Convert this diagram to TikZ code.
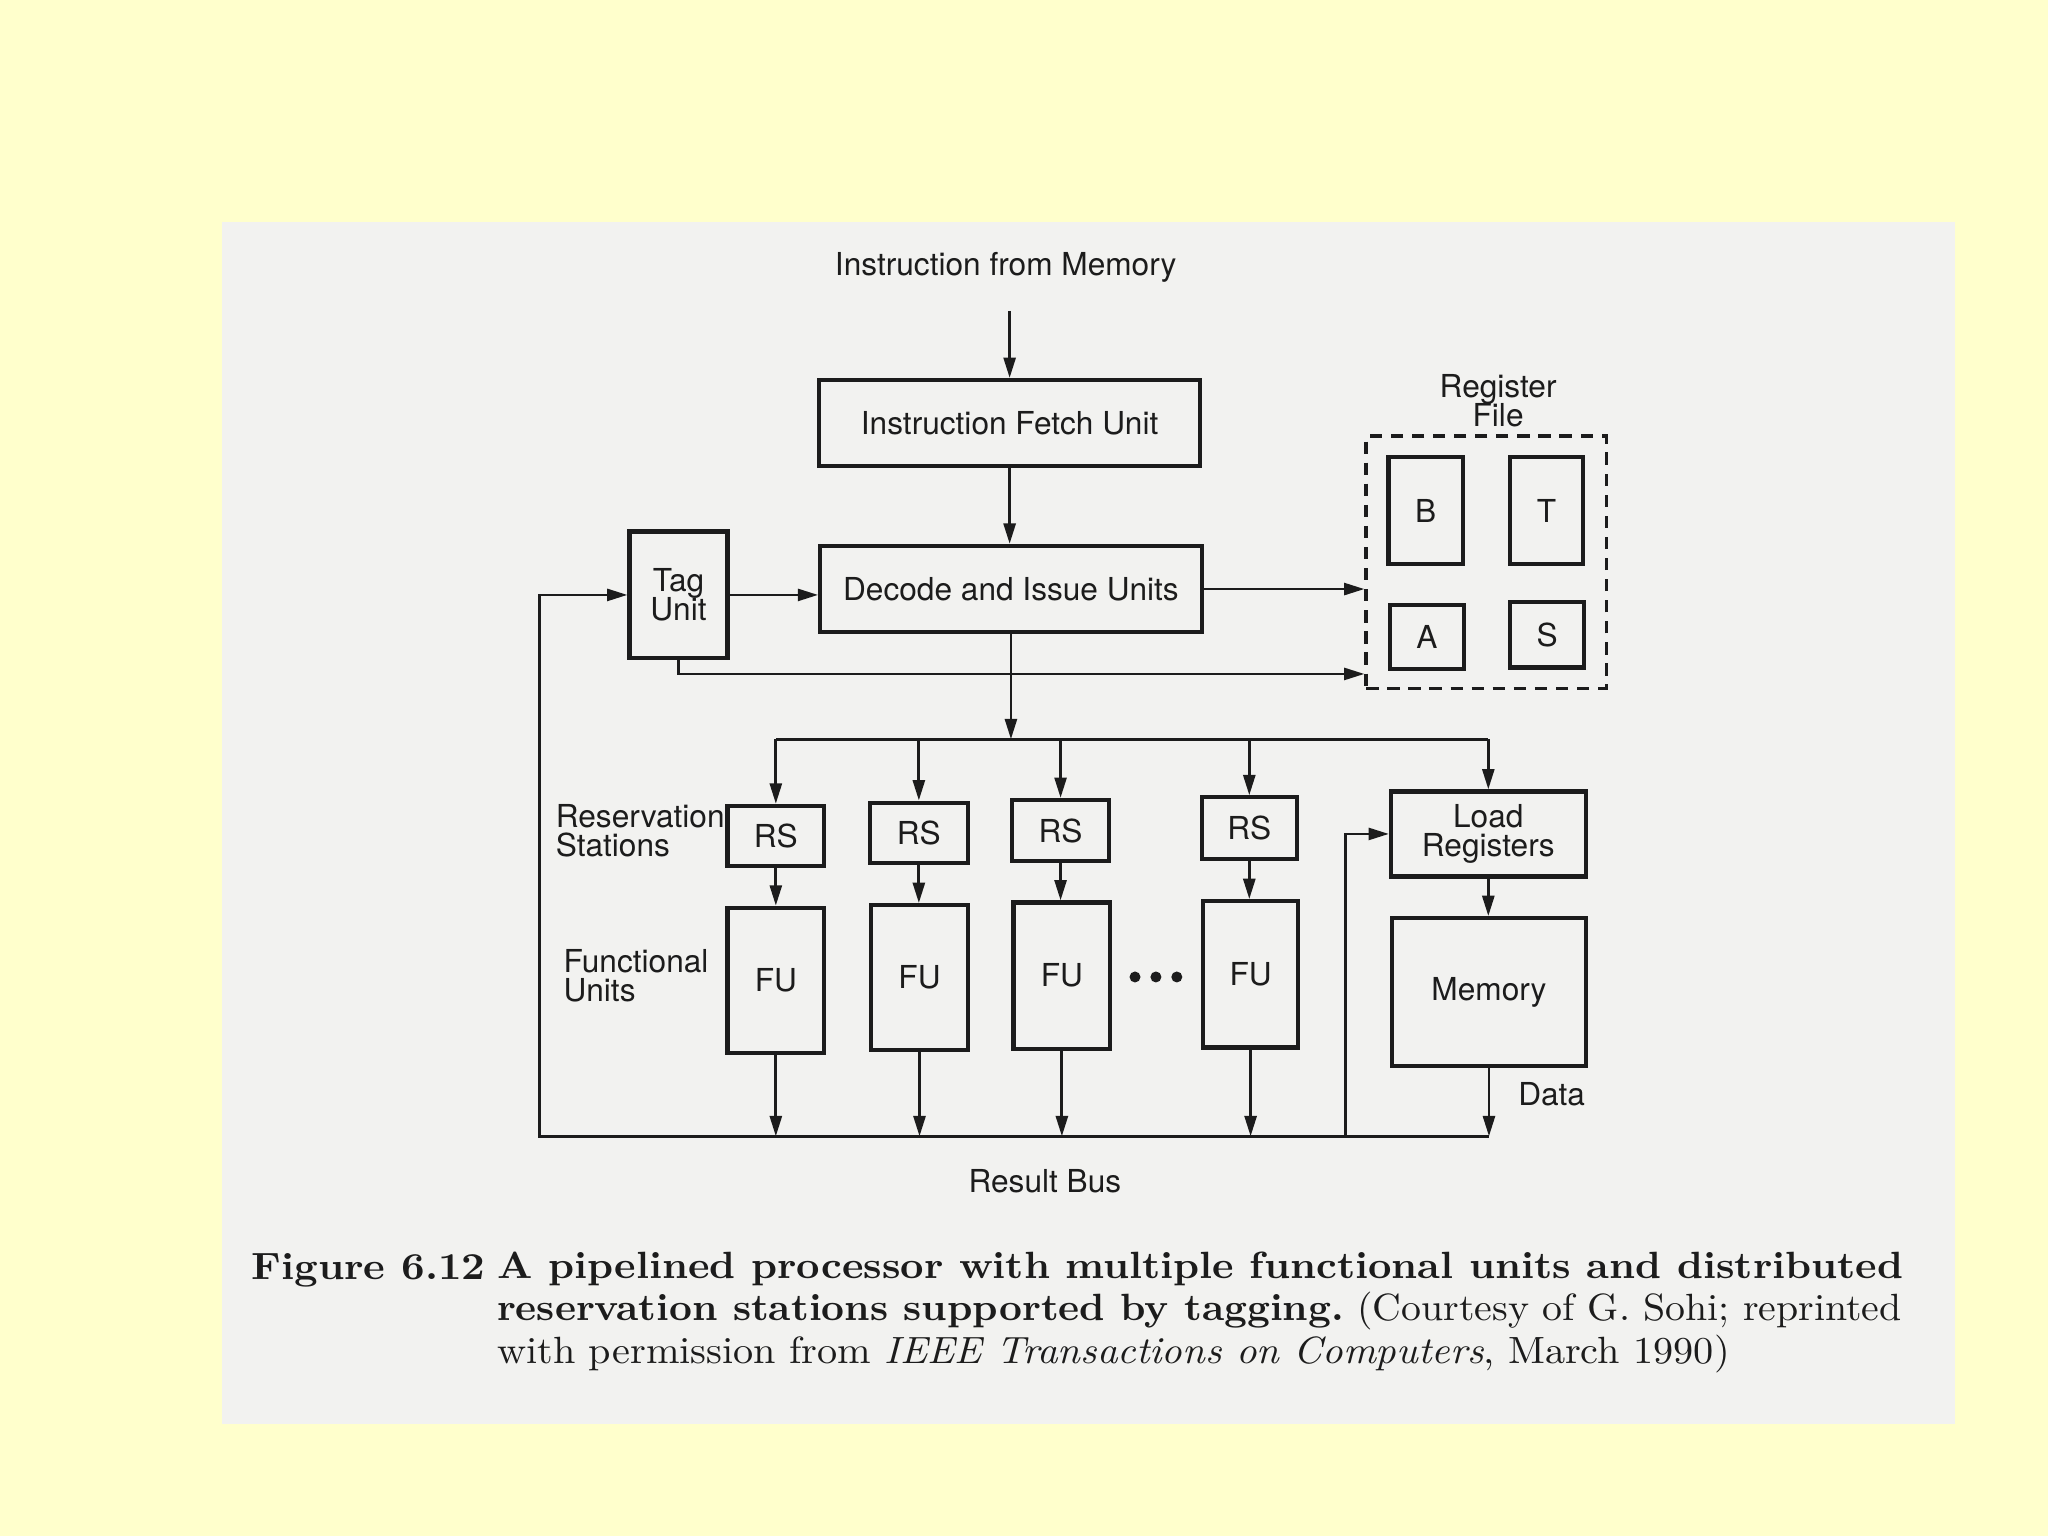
\documentclass[tikz,border=0pt]{standalone}
\usepackage{fontspec}
\newfontfamily\hv{TeX Gyre Heros}
\usetikzlibrary{arrows.meta}
\definecolor{bgyellow}{RGB}{255,255,204}
\definecolor{paper}{RGB}{242,242,240}
\definecolor{ink}{RGB}{28,28,28}
\begin{document}
\setlength{\lineskiplimit}{-10pt}
\begin{tikzpicture}[x=0.013061cm,y=-0.013061cm,
  every node/.style={font=\hv\fontsize{9}{8.2}\selectfont, text=ink},
  bx/.style 2 args={draw=ink, line width=1.2pt, minimum width=#1*0.013061cm, minimum height=#2*0.013061cm, inner sep=0pt},
  arr/.style={draw=ink, line width=0.8pt, -{Triangle[length=5.8pt,width=3.4pt]}},
  ln/.style={draw=ink, line width=0.8pt},
  lbl/.style={align=center, inner sep=0pt},
  lbll/.style={align=left, inner sep=0pt, anchor=west},
  captxt/.style={font=\fontsize{10.8}{11.7}\selectfont, anchor=base west, inner sep=0pt, transform shape, xscale=#1, text=ink}
]
\useasboundingbox (0,0) rectangle (1568,1176);
\fill[bgyellow] (0,0) rectangle (1568,1176);
\fill[paper] (170,170) rectangle (1497,1090);

% helper coordinates
\coordinate (imemb) at (773,238);
\coordinate (yTR) at (0,516);
\coordinate (dbus) at (0,566);
\coordinate (rbus) at (0,870);
\coordinate (fbx) at (413,0);
\coordinate (lrx) at (1030,0);

% nodes
\node[lbl] (imem) at (770,205) {Instruction from Memory};
\node[bx={292}{66}] (ifu) at (773,324) {Instruction Fetch Unit};
\node[bx={292}{66}] (diu) at (774,451) {Decode and Issue Units};
\node[bx={75}{97}, align=center] (tag) at (519.5,455.5) {Tag\\Unit};
\node[bx={184}{193}, line width=1pt, dash pattern=on 3.5pt off 2.5pt] (rf) at (1138,430.5) {};
\node[lbl] (rflbl) at (1147,307) {Register\\File};
\node[bx={57}{82}] (rb) at (1091.5,391) {B};
\node[bx={56}{82}] (rt) at (1184,391) {T};
\node[bx={57}{49}] (ra) at (1092.5,487.5) {A};
\node[bx={57}{50}] (rs) at (1184.5,486) {S};

\node[bx={74}{46}] (rs1) at (594,640) {RS};
\node[bx={75}{46}] (rs2) at (703.5,637.5) {RS};
\node[bx={74}{47}] (rs3) at (812,636) {RS};
\node[bx={73}{47}] (rs4) at (956.5,634) {RS};
\node[bx={74}{111}] (fu1) at (594,750.5) {FU};
\node[bx={74}{111}] (fu2) at (704,748.5) {FU};
\node[bx={74}{112}] (fu3) at (813,747) {FU};
\node[bx={73}{112}] (fu4) at (957.5,746) {FU};
\node[bx={149}{65}, align=center] (lr) at (1139.5,638.5) {Load\\Registers};
\node[bx={148}{113}] (mem) at (1140,759.5) {Memory};

\node[lbll] (rslbl) at (425,636) {Reservation\\Stations};
\node[lbll] (fulbl) at (431,747) {Functional\\Units};
\node[lbl] (rblbl) at (800,904) {Result Bus};
\node[lbl] (datalbl) at (1188,838) {Data};
\fill[ink] (869,748) circle (0.055cm) (885,748) circle (0.055cm) (901,748) circle (0.055cm);

% connectors
\draw[arr] (imemb) -- (ifu.north);
\draw[arr] (ifu.south) -- (ifu.south |- diu.north);
\draw[arr] (tag.east) -- (tag.east -| diu.west);
\draw[arr] (diu.east) -- (diu.east -| rf.west);
\draw[arr] (tag.south) |- (rf.west |- yTR);
\draw[arr] (diu.south) -- (diu.south |- dbus);
\draw[ln] (rs1.north |- dbus) -- (lr.north |- dbus);
\foreach \n in {rs1,rs2,rs3,rs4,lr} \draw[arr] (\n.north |- dbus) -- (\n.north);
\foreach \a/\b in {rs1/fu1,rs2/fu2,rs3/fu3,rs4/fu4} \draw[arr] (\a.south) -- (\a.south |- \b.north);
\foreach \n in {fu1,fu2,fu3,fu4,mem} \draw[arr] (\n.south) -- (\n.south |- rbus);
\draw[arr] (lr.south) -- (lr.south |- mem.north);
\draw[arr] (mem.south |- rbus) -- (fbx |- rbus) -- (fbx |- tag.west) -- (tag.west);
\draw[arr] (lrx |- rbus) -- (lrx |- lr.west) -- (lr.west);

% caption
\node[captxt=1.084] (c0) at (192,980) {\bfseries Figure 6.12};
\node[captxt=1.074] (c1) at (380,979) {\bfseries A pipelined processor with multiple functional units and distributed};
\node[captxt=1.050] (c2) at (380,1011) {\bfseries reservation stations supported by tagging.\mdseries\ (Courtesy of G. Sohi; reprinted};
\node[captxt=1.061] (c3) at (380,1044) {with permission from \textit{IEEE Transactions on Computers}, March 1990)};
\end{tikzpicture}
\end{document}
